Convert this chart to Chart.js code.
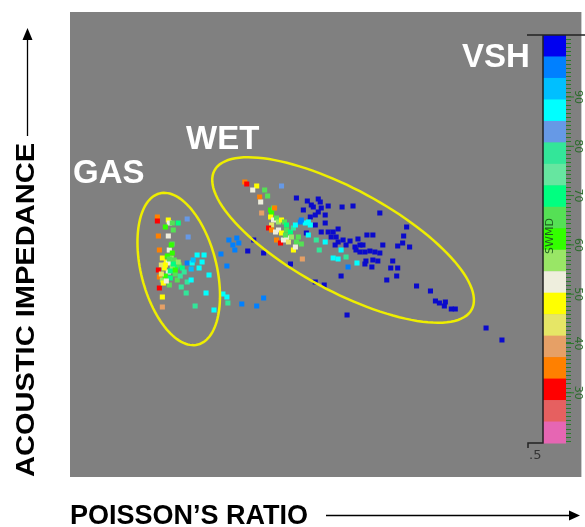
<!DOCTYPE html>
<html>
<head>
<meta charset="utf-8">
<script src="https://cdn.jsdelivr.net/npm/chart.js@4.4.1/dist/chart.umd.min.js"></script>
<style>
  html, body { margin: 0; padding: 0; background: #fff; }
  #wrap { width: 585px; height: 527px; }
</style>
</head>
<body>
<div id="wrap"><canvas id="chart" width="585" height="527"></canvas></div>
<script>
// VSH colour classes, top of the colour bar (0) to the bottom (18)
var vshPalette = ['#0000f0', '#0080ff', '#00bfff', '#00ffff', '#6699e6', '#33e699', '#66e6a0',
  '#00ff80', '#55e055', '#33ff00', '#99e666', '#eeeedd', '#ffff00', '#e6e666', '#e6a066',
  '#ff8000', '#ff0000', '#e66060', '#e666b3'];
var vshTicks = ['90', '80', '70', '60', '50', '40', '30'];

// gas sands (relative poisson's ratio / relative acoustic impedance)
var gasPR = [88, 88, 99, 100, 103, 109, 96, 104, 99, 89, 118, 119, 103, 90, 100, 102, 93, 97, 102, 103,
  105, 107, 110, 113, 99, 103, 99, 95, 92, 89, 90, 93, 90, 94, 100, 96, 106, 101, 93, 93,
  108, 112, 115, 118, 118, 122, 117, 126, 128, 135, 133, 123, 124, 130, 140, 137, 145, 122,
  98, 101, 106, 109, 96, 104, 100, 92, 111, 97];
var gasAI = [260, 256, 257, 254, 254, 254, 250, 247, 241, 241, 258, 240, 233, 227, 227, 232, 219, 215, 219, 224,
  217, 210, 212, 209, 214, 210, 205, 209, 212, 207, 200, 197, 189, 194, 192, 201, 203, 199, 180, 170,
  197, 190, 205, 214, 195, 197, 184, 171, 222, 222, 215, 214, 217, 209, 202, 184, 167, 208,
  221, 206, 207, 215, 212, 213, 218, 203, 201, 196];
var gasVsh = [15, 16, 12, 11, 8, 7, 9, 8, 11, 15, 4, 4, 8, 15, 11, 9, 12, 12, 10, 9,
  8, 7, 8, 7, 11, 10, 11, 12, 13, 16, 15, 10, 16, 12, 8, 9, 8, 7, 12, 14,
  8, 5, 5, 1, 5, 3, 5, 5, 3, 3, 3, 3, 2, 3, 3, 3, 3, 2,
  9, 7, 9, 10, 12, 7, 8, 13, 5, 11];

// scattered points between and outside the two groups
var midPR = [152, 158, 160, 164, 168, 166, 170, 154, 158, 159, 173, 188, 195, 179, 195, 185, 222, 247, 256, 273, 279, 419, 435];
var midAI = [223, 211, 237, 232, 239, 227, 234, 183, 180, 174, 173, 171, 179, 226, 224, 237, 213, 195, 192, 201, 162, 149, 137];
var midVsh = [1, 1, 1, 1, 1, 1, 1, 3, 3, 5, 1, 1, 1, 0, 0, 0, 0, 0, 0, 0, 0, 0, 0];

// wet sands
var wetPR = [176, 178, 188, 184, 196, 199, 191, 192, 213, 193, 202, 205, 206, 203, 202, 205, 208, 210, 213, 216,
  218, 203, 200, 203, 207, 210, 213, 218, 222, 225, 227, 232, 237, 233, 240, 242, 208, 212, 215, 218,
  220, 223, 217, 230, 228, 233, 225, 227, 234, 240, 248, 251, 257, 265, 270, 273, 278, 280, 289];
var wetAI = [295, 293, 291, 287, 287, 281, 280, 275, 291, 264, 267, 269, 269, 264, 260, 257, 259, 255, 257, 255,
  252, 252, 249, 247, 245, 247, 244, 247, 245, 249, 252, 255, 254, 257, 255, 252, 237, 234, 237, 239,
  235, 240, 242, 240, 235, 233, 227, 230, 218, 242, 237, 227, 235, 219, 218, 227, 220, 210, 214];
var wetVsh = [15, 16, 12, 11, 8, 8, 15, 11, 4, 14, 9, 8, 15, 9, 12, 11, 8, 10, 12, 8,
  7, 13, 16, 15, 11, 11, 12, 8, 7, 5, 3, 1, 3, 1, 3, 3, 15, 16, 11, 11,
  13, 10, 8, 8, 8, 8, 12, 11, 14, 3, 5, 5, 3, 3, 3, 3, 5, 1, 3];

// shaly points (VSH class 0) in the wet trend
var shalePR = [228, 239, 250, 252, 243, 245, 253, 260, 274, 285, 235, 250, 247, 257, 242, 247, 257, 312, 253, 260,
  265, 270, 238, 263, 268, 270, 267, 275, 278, 282, 290, 299, 305, 287, 292, 295, 288, 292, 297, 302,
  307, 312, 315, 330, 335, 336, 342, 339, 325, 323, 330, 329, 319, 305, 310, 298, 297, 304, 349, 363,
  368, 372, 378, 377, 384, 388];
var shaleAI = [279, 276, 278, 275, 272, 270, 269, 271, 270, 271, 267, 265, 262, 262, 260, 252, 254, 264, 245, 245,
  245, 248, 244, 240, 240, 235, 232, 237, 232, 236, 238, 242, 242, 230, 232, 232, 227, 225, 225, 226,
  225, 224, 232, 231, 234, 241, 230, 250, 216, 209, 209, 201, 197, 217, 216, 216, 213, 210, 191, 186,
  176, 174, 175, 171, 168, 168];

var shaleDot = '#0a0acc';

function pts(xs, ys) {
  return xs.map(function (x, i) { return { x: x, y: ys[i] }; });
}
function cols(cls) {
  return cls.map(function (c) { return c === 0 ? shaleDot : vshPalette[c]; });
}

var ellipses = [
  { cx: 109.5, cy: 208, a: 78, b: 38, angle: -75.7 },
  { cx: 275, cy: 237, a: 147, b: 51, angle: -28.2 }
];

var decorPlugin = {
  id: 'decor',
  beforeDraw: function (chart) {
    var ctx = chart.ctx, ca = chart.chartArea;
    ctx.save();
    ctx.fillStyle = '#ffffff';
    ctx.fillRect(0, 0, chart.width, chart.height);
    ctx.fillStyle = '#808080';
    ctx.fillRect(ca.left, ca.top, ca.right - ca.left, ca.bottom - ca.top);
    ctx.restore();
  },
  afterDatasetsDraw: function (chart) {
    var ctx = chart.ctx, xs = chart.scales.x, ys = chart.scales.y;
    ctx.save();
    ctx.strokeStyle = '#eeee00';
    ctx.lineWidth = 2.5;
    ellipses.forEach(function (e) {
      var th = e.angle * Math.PI / 180;
      ctx.beginPath();
      for (var k = 0; k <= 120; k++) {
        var t = k / 120 * Math.PI * 2;
        var dx = e.a * Math.cos(t) * Math.cos(th) - e.b * Math.sin(t) * Math.sin(th);
        var dy = e.a * Math.cos(t) * Math.sin(th) + e.b * Math.sin(t) * Math.cos(th);
        var px = xs.getPixelForValue(e.cx + dx), py = ys.getPixelForValue(e.cy + dy);
        if (k === 0) ctx.moveTo(px, py); else ctx.lineTo(px, py);
      }
      ctx.closePath();
      ctx.stroke();
    });

    // group labels
    ctx.fillStyle = '#ffffff';
    ctx.font = 'bold 33px "Liberation Sans", Arial, sans-serif';
    ctx.textBaseline = 'alphabetic';
    ctx.fillText('GAS', 73, 183);
    ctx.fillText('WET', 186, 149);
    ctx.fillText('VSH', 462, 67);

    // colour bar
    var top = 35, bottom = 443, left = 543, right = 566;
    var h = (bottom - top) / vshPalette.length;
    vshPalette.forEach(function (c, i) {
      ctx.fillStyle = c;
      ctx.fillRect(left, top + i * h, right - left, h + 0.5);
    });
    ctx.strokeStyle = '#2a7a2a';
    ctx.lineWidth = 1;
    for (var yy = top + 4; yy < bottom; yy += 4.1) {
      ctx.beginPath();
      ctx.moveTo(right, Math.round(yy) + 0.5);
      ctx.lineTo(right + 5, Math.round(yy) + 0.5);
      ctx.stroke();
    }
    ctx.fillStyle = '#2a6a2a';
    ctx.font = '11px "DejaVu Sans", sans-serif';
    ctx.textAlign = 'center';
    vshTicks.forEach(function (t, i) {
      var ty = 97 + i * 49.3;
      ctx.beginPath();
      ctx.moveTo(right, ty);
      ctx.lineTo(right + 8, ty);
      ctx.stroke();
      ctx.save();
      ctx.translate(575, ty);
      ctx.rotate(Math.PI / 2);
      ctx.fillText(t, 0, 0);
      ctx.restore();
    });
    ctx.save();
    ctx.translate(553, 236);
    ctx.rotate(-Math.PI / 2);
    ctx.fillStyle = '#1f5f1f';
    ctx.fillText('SWMD', 0, 0);
    ctx.restore();

    ctx.strokeStyle = '#222222';
    ctx.lineWidth = 1.5;
    ctx.beginPath();
    ctx.moveTo(527, top); ctx.lineTo(585, top);
    ctx.moveTo(left, top); ctx.lineTo(left, bottom);
    ctx.lineTo(528, bottom); ctx.lineTo(528, bottom + 5);
    ctx.stroke();
    ctx.fillStyle = '#333333';
    ctx.font = '13px "DejaVu Sans", sans-serif';
    ctx.textAlign = 'left';
    ctx.fillText('.5', 529, 459);

    // axis titles with arrows
    ctx.fillStyle = '#000000';
    ctx.strokeStyle = '#000000';
    ctx.font = 'bold 27px "Liberation Sans", Arial, sans-serif';
    ctx.fillText('POISSON\u2019S RATIO', 70, 524);
    ctx.lineWidth = 1.3;
    ctx.beginPath();
    ctx.moveTo(326, 515.5); ctx.lineTo(572, 515.5);
    ctx.stroke();
    ctx.beginPath();
    ctx.moveTo(580, 515.5); ctx.lineTo(569, 510.5); ctx.lineTo(569, 520.5);
    ctx.closePath(); ctx.fill();

    ctx.save();
    ctx.translate(34, 477);
    ctx.rotate(-Math.PI / 2);
    ctx.font = 'bold 25px "Liberation Sans", Arial, sans-serif';
    var w = ctx.measureText('ACOUSTIC IMPEDANCE').width;
    ctx.scale(334 / w, 1);
    ctx.fillText('ACOUSTIC IMPEDANCE', 0, 0);
    ctx.restore();
    ctx.beginPath();
    ctx.moveTo(27.5, 136); ctx.lineTo(27.5, 38);
    ctx.stroke();
    ctx.beginPath();
    ctx.moveTo(27.5, 28); ctx.lineTo(22.5, 40); ctx.lineTo(32.5, 40);
    ctx.closePath(); ctx.fill();
    ctx.restore();
  }
};

var commonPoint = { pointStyle: 'rect', pointRadius: 3.6, borderWidth: 0, pointHoverRadius: 3.6 };

new Chart(document.getElementById('chart'), {
  type: 'scatter',
  data: {
    datasets: [
      Object.assign({ label: 'gas', data: pts(gasPR, gasAI), backgroundColor: cols(gasVsh) }, commonPoint),
      Object.assign({ label: 'mid', data: pts(midPR, midAI), backgroundColor: cols(midVsh) }, commonPoint),
      Object.assign({ label: 'wet', data: pts(wetPR, wetAI), backgroundColor: cols(wetVsh) }, commonPoint),
      Object.assign({ label: 'shale', data: pts(shalePR, shaleAI), backgroundColor: shaleDot }, commonPoint)
    ]
  },
  options: {
    responsive: false,
    animation: false,
    layout: { padding: { left: 70, top: 12, right: 0, bottom: 50 } },
    scales: {
      x: { type: 'linear', min: 0, max: 515, display: false },
      y: { type: 'linear', min: 0, max: 465, display: false }
    },
    plugins: {
      legend: { display: false },
      tooltip: { enabled: false }
    }
  },
  plugins: [decorPlugin]
});
</script>
</body>
</html>
